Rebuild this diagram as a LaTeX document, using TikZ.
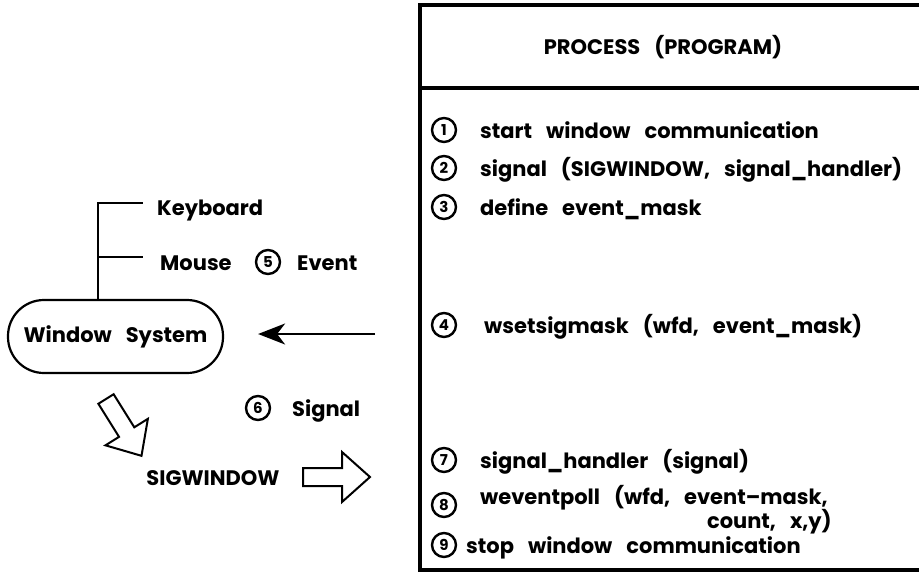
\documentclass[tikz,border=0pt]{standalone}
\usepackage{fontspec}
\setmainfont{Poppins}
\usetikzlibrary{arrows.meta,calc}
\newcommand\gap{\hspace{14pt}}
\begin{document}
\begin{tikzpicture}[x=1pt,y=-1pt,
  txt/.style={font=\fontsize{21}{25}\selectfont\bfseries, inner sep=0pt, anchor=base west},
  num/.style={circle, draw, line width=2.4pt, minimum size=24pt, inner sep=0pt,
              font=\fontsize{15}{15}\selectfont\bfseries},
  frame/.style={line width=3.2pt},
  wire/.style={line width=2.2pt},
  hollow/.style={line width=2pt, line join=miter, fill=white},
  fatarrow/.pic={\draw[hollow] (0,-9) -- (39,-9) -- (39,-25) -- (67,0)
                 -- (39,25) -- (39,9) -- (0,9) -- cycle;}]
\useasboundingbox (0,0) rectangle (919,576);

% process frame, open on the right
\draw[frame] (925,5) -- (420,5) -- (420,570) -- (925,570);
\draw[frame] (420,88) -- (925,88);
\node[txt, anchor=base] (head) at (663,54) {PROCESS\gap(PROGRAM)};

% program steps
\node[num] (n1) at (444,130) {1};
\node[txt] (t1) at (480,138) {start\gap window\gap communication};
\node[num] (n2) at (444,168) {2};
\node[txt] (t2) at (480,176) {signal\gap(SIGWINDOW,\gap signal\_handler)};
\node[num] (n3) at (444,207) {3};
\node[txt] (t3) at (480,215) {define\gap event\_mask};
\node[num] (n4) at (444,325) {4};
\node[txt] (t4) at (484,333) {wsetsigmask\gap(wfd,\gap event\_mask)};
\node[num] (n7) at (444,460) {7};
\node[txt] (t7) at (480,468) {signal\_handler\gap(signal)};
\node[num] (n8) at (444,505) {8};
\node[txt] (t8) at (480,504) {weventpoll\gap(wfd,\gap event--mask,};
\node[txt, anchor=base east] (t8b) at ($(t8.base east)+(4,24)$) {count,\gap x,y)};
\node[num] (n9) at (444,545) {9};
\node[txt] (t9) at (466,553) {stop\gap window\gap communication};

% window system and its inputs
\node[draw, wire, rounded corners=36pt, minimum width=215pt, minimum height=73pt,
      inner sep=0pt, font=\fontsize{21}{25}\selectfont\bfseries] (ws) at (115.5,336.5)
      {Window\gap System};
\coordinate (trunk) at (98,203);
\coordinate (kbend) at (143,203);
\coordinate (mend) at (143,257);
\node[txt] (kbd) at (157,215) {Keyboard};
\node[txt] (mouse) at (160,270) {Mouse};
\draw[wire] (ws.north -| trunk) -- (trunk) -- (kbend);
\draw[wire] (trunk |- mend) -- (mend);

\node[num] (n5) at (268,262) {5};
\node[txt] (ev) at (297,270) {Event};
\coordinate (evsrc) at (375,334);
\draw[wire, -{Stealth[length=27pt, width=21pt, inset=8pt]}, shorten >=34pt]
  (evsrc) -- (evsrc -| ws.east);

% signal delivery
\node[num] (n6) at (258,408) {6};
\node[txt] (sig) at (292,416) {Signal};
\node[txt, anchor=base] (sw) at (213,485) {SIGWINDOW};
\pic[rotate=-58] (drop) at (106,399) {fatarrow};
\pic (send) at (303,477) {fatarrow};
\end{tikzpicture}
\end{document}
